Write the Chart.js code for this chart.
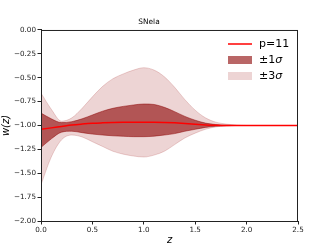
<!DOCTYPE html>
<html>
<head>
<meta charset="utf-8">
<script src="https://cdn.jsdelivr.net/npm/chart.js@4"></script>
<style>
  html, body { margin: 0; padding: 0; background: #fff; }
  #wrap { width: 332px; height: 249px; }
</style>
</head>
<body>
<div id="wrap"><canvas id="myChart" width="332" height="249"></canvas></div>
<script>
// Data
var zValues = [0.0, 0.1, 0.2, 0.3, 0.4, 0.5, 0.6, 0.7, 0.8, 0.9, 1.0, 1.1, 1.2,
               1.3, 1.4, 1.5, 1.6, 1.7, 1.8, 1.9, 2.0, 2.1, 2.2, 2.3, 2.4, 2.5];
var wBest = [-1.04, -1.025, -1.01, -0.995, -0.985, -0.977, -0.972, -0.968, -0.966, -0.965,
             -0.965, -0.966, -0.968, -0.972, -0.978, -0.986, -0.994, -0.998, -1.0, -1.0,
             -1.0, -1.0, -1.0, -1.0, -1.0, -1.0];
var upper1 = [-0.87, -0.93, -0.97, -0.96, -0.93, -0.89, -0.85, -0.82, -0.80, -0.785,
              -0.775, -0.78, -0.81, -0.855, -0.905, -0.945, -0.975, -0.99, -0.997, -1.0,
              -1.0, -1.0, -1.0, -1.0, -1.0, -1.0];
var lower1 = [-1.23, -1.14, -1.07, -1.06, -1.075, -1.09, -1.10, -1.108, -1.113, -1.117,
              -1.117, -1.112, -1.10, -1.085, -1.06, -1.04, -1.02, -1.008, -1.002, -1.0,
              -1.0, -1.0, -1.0, -1.0, -1.0, -1.0];
var upper3 = [-0.66, -0.83, -0.955, -0.92, -0.82, -0.70, -0.59, -0.51, -0.46, -0.42,
              -0.395, -0.42, -0.49, -0.60, -0.73, -0.84, -0.92, -0.965, -0.985, -0.995,
              -1.0, -1.0, -1.0, -1.0, -1.0, -1.0];
var lower3 = [-1.62, -1.33, -1.15, -1.10, -1.12, -1.17, -1.22, -1.27, -1.30, -1.32,
              -1.33, -1.31, -1.27, -1.20, -1.13, -1.08, -1.04, -1.015, -1.005, -1.0,
              -1.0, -1.0, -1.0, -1.0, -1.0, -1.0];
var legendLabels = ["p=11", "\u00b11", "\u00b13"];
var chartTitle = "SNela";

const DARK = "rgba(139, 0, 0, 0.6)";
const LIGHT = "rgba(165, 42, 42, 0.2)";
const FONT = "'DejaVu Sans', sans-serif";

function toPoints(arr) {
  return zValues.map((z, i) => ({ x: z, y: arr[i] }));
}

function minusFmt(v, digits) {
  return v.toFixed(digits).replace("-", "\u2212");
}

// Draws the top/right spines and the legend in the upper right corner
const framePlugin = {
  id: "frame",
  afterDraw(chart) {
    var ctx = chart.ctx;
    var a = chart.chartArea;
    ctx.save();
    ctx.strokeStyle = "#222";
    ctx.lineWidth = 1;
    ctx.strokeRect(a.left + 0.5, a.top + 0.5, a.right - a.left - 1, a.bottom - a.top);

    // legend
    var x0 = 228, x1 = 252, tx = 259;
    ctx.strokeStyle = "red";
    ctx.lineWidth = 1.5;
    ctx.beginPath();
    ctx.moveTo(x0, 44);
    ctx.lineTo(x1, 44);
    ctx.stroke();
    ctx.fillStyle = DARK;
    ctx.fillRect(x0, 56, x1 - x0, 8);
    ctx.fillStyle = LIGHT;
    ctx.fillRect(x0, 72, x1 - x0, 8);

    ctx.fillStyle = "#000";
    ctx.textBaseline = "middle";
    ctx.font = "11px " + FONT;
    ctx.fillText(legendLabels[0], tx, 44);
    [1, 2].forEach((k) => {
      var y = 44 + 16 * k;
      ctx.font = "11px " + FONT;
      ctx.fillText(legendLabels[k], tx, y);
      var w = ctx.measureText(legendLabels[k]).width;
      ctx.font = "italic 11px " + FONT;
      ctx.fillText("\u03c3", tx + w, y);
    });
    ctx.restore();
  }
};

var ctx = document.getElementById("myChart").getContext("2d");
var myChart = new Chart(ctx, {
  type: "line",
  data: {
    datasets: [
      { label: "p=11", data: toPoints(wBest), borderColor: "red", borderWidth: 1.5, fill: false },
      { label: "1s up", data: toPoints(upper1), borderColor: DARK, borderWidth: 0.8, backgroundColor: DARK, fill: "+1" },
      { label: "1s low", data: toPoints(lower1), borderColor: DARK, borderWidth: 0.8, fill: false },
      { label: "3s up", data: toPoints(upper3), borderColor: LIGHT, borderWidth: 1, backgroundColor: LIGHT, fill: "+1" },
      { label: "3s low", data: toPoints(lower3), borderColor: LIGHT, borderWidth: 1, fill: false }
    ]
  },
  options: {
    responsive: false,
    animation: false,
    events: [],
    layout: { padding: { left: 0, right: 34, top: 0, bottom: 0 } },
    elements: {
      point: { radius: 0 },
      line: { cubicInterpolationMode: "monotone" }
    },
    plugins: {
      legend: { display: false },
      tooltip: { enabled: false },
      title: {
        display: true,
        text: chartTitle,
        color: "#000",
        font: { family: FONT, size: 7.4, weight: "normal", lineHeight: 1.2 },
        padding: { top: 17.8, bottom: 3.3 }
      }
    },
    scales: {
      x: {
        type: "linear",
        min: 0,
        max: 2.5,
        afterFit(scale) { scale.height = 28; },
        ticks: {
          stepSize: 0.5,
          color: "#222",
          padding: 1,
          maxRotation: 0,
          font: { family: FONT, size: 7.2 },
          callback: (v) => minusFmt(v, 1)
        },
        grid: { drawOnChartArea: false, drawTicks: true, tickLength: 3.5, color: "#222" },
        border: { display: true, color: "#222", width: 1 },
        title: {
          display: true,
          text: "z",
          color: "#000",
          font: { family: FONT, size: 10, style: "italic" },
          padding: { top: 0, bottom: 3 }
        }
      },
      y: {
        min: -2,
        max: 0,
        afterFit(scale) { scale.width = 41; },
        ticks: {
          stepSize: 0.25,
          color: "#222",
          padding: 1.5,
          font: { family: FONT, size: 7.2 },
          callback: (v) => minusFmt(v, 2)
        },
        grid: { drawOnChartArea: false, drawTicks: true, tickLength: 3.5, color: "#222" },
        border: { display: true, color: "#222", width: 1 },
        title: {
          display: true,
          text: "w(z)",
          color: "#000",
          font: { family: FONT, size: 10, style: "italic" },
          padding: { top: 0, bottom: 0 }
        }
      }
    }
  },
  plugins: [framePlugin]
});
</script>
</body>
</html>
